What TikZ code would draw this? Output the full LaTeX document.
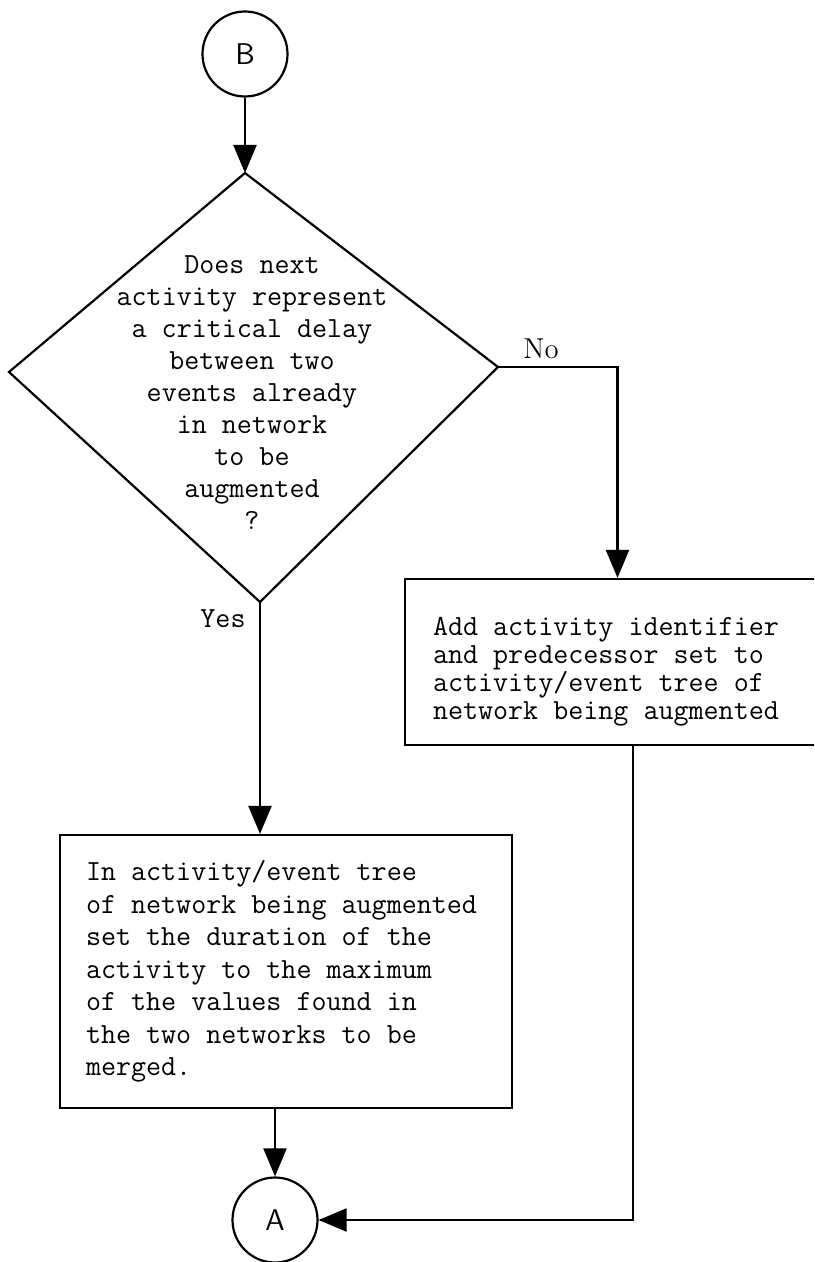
\documentclass[tikz,border=0pt]{standalone}
\usetikzlibrary{arrows.meta}
\begin{document}
\begin{tikzpicture}[x=0.5pt,y=-0.5pt,line width=1.1pt,
  arr/.style={-{Triangle[length=14pt,width=11.5pt]}},
  box/.style={draw,inner sep=0pt},
  conn/.style={draw,circle,minimum size=42.5pt,inner sep=0pt,font=\fontsize{15}{17}\selectfont\sffamily},
  ttxt/.style={font=\fontsize{14.6}{16}\selectfont\ttfamily}]
\useasboundingbox (0,0) rectangle (814,1262);
\clip (0,0) rectangle (814,1262);

% start connector
\node[conn] (B) at (245,54) {B};

% decision diamond
\coordinate (dT) at (245,173);
\coordinate (dL) at (9,372);
\coordinate (dR) at (498,367);
\coordinate (dB) at (260,602);
\draw (dT) -- (dR) -- (dB) -- (dL) -- cycle;
\node[ttxt,align=center,inner sep=0pt] (q) at (252,393)
  {Does next\\activity represent\\a critical delay\\between two\\events already\\in network\\to be\\augmented\\?};

% right box
\node[box,minimum width=212.5pt,minimum height=83pt] (R) at (617.5,662)
  {\begin{minipage}{184.5pt}\vspace{10pt}\fontsize{14.6}{14}\selectfont\ttfamily
   Add activity identifier\\and predecessor set to\\activity/event tree of\\network being augmented\end{minipage}};

% left box
\node[box,minimum width=226pt,minimum height=136.5pt] (L) at (286,971.5)
  {\begin{minipage}{200pt}\fontsize{14.6}{16.25}\selectfont\ttfamily
   In activity/event tree\\of network being augmented\\set the duration of the\\activity to the maximum\\of the values found in\\the two networks to be\\merged.\end{minipage}};

% end connector
\node[conn] (A) at (275,1220) {A};

% labels
\node[font=\fontsize{14.4}{16}\selectfont] (no) at (541,349) {No};
\node[ttxt] (yes) at (223,619) {Yes};

% connectors
\draw[arr] (B) -- (dT);
\draw[arr] (dR) -| (R.north);
\draw[arr] (dB) -- (dB |- L.north);
\draw[arr] (A |- L.south) -- (A);
\coordinate (rb) at (633,0);
\draw[arr] (rb |- R.south) |- (A.east);
\end{tikzpicture}
\end{document}
